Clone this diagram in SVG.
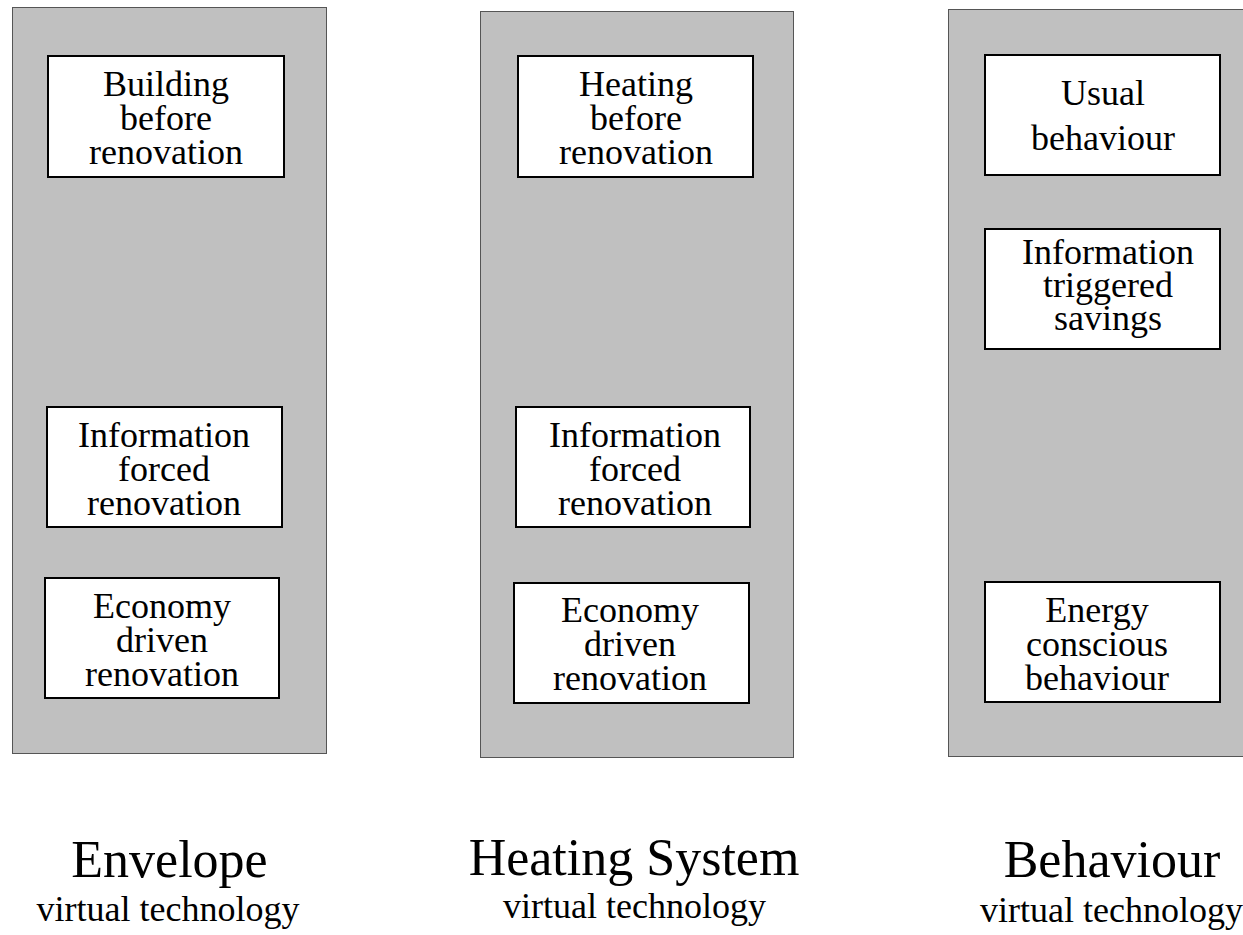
<svg xmlns="http://www.w3.org/2000/svg" width="1243" height="935" viewBox="0 0 1243 935">
  <style>
    .panel { fill: #c0c0c0; stroke: #555555; stroke-width: 1; }
    .box { fill: #ffffff; stroke: #000000; stroke-width: 2; }
    .lbl { font-family: "Liberation Serif", "Times New Roman", serif; font-size: 36px; fill: #000000; text-anchor: middle; }
    .title { font-family: "Liberation Serif", "Times New Roman", serif; font-size: 52px; fill: #000000; text-anchor: middle; }
  </style>
  <rect x="0" y="0" width="1243" height="935" fill="#ffffff"/>

  <!-- column panels -->
  <g id="panel-envelope"><rect class="panel" x="12.5" y="7.5" width="314" height="746"/></g>
  <g id="panel-heating"><rect class="panel" x="480.5" y="11.5" width="313" height="746"/></g>
  <g id="panel-behaviour"><rect class="panel" x="948.5" y="9.5" width="320" height="747"/></g>

  <!-- Envelope column -->
  <g id="env-before">
    <rect class="box" x="48" y="56" width="236" height="121"/>
    <text class="lbl" x="166" y="96">Building</text>
    <text class="lbl" x="166" y="130">before</text>
    <text class="lbl" x="166" y="164">renovation</text>
  </g>
  <g id="env-forced">
    <rect class="box" x="47" y="407" width="235" height="120"/>
    <text class="lbl" x="164" y="447">Information</text>
    <text class="lbl" x="164" y="481">forced</text>
    <text class="lbl" x="164" y="515">renovation</text>
  </g>
  <g id="env-economy">
    <rect class="box" x="45" y="578" width="234" height="120"/>
    <text class="lbl" x="162" y="618">Economy</text>
    <text class="lbl" x="162" y="652">driven</text>
    <text class="lbl" x="162" y="686">renovation</text>
  </g>

  <!-- Heating System column -->
  <g id="heat-before">
    <rect class="box" x="518" y="56" width="235" height="121"/>
    <text class="lbl" x="636" y="96">Heating</text>
    <text class="lbl" x="636" y="130">before</text>
    <text class="lbl" x="636" y="164">renovation</text>
  </g>
  <g id="heat-forced">
    <rect class="box" x="516" y="407" width="234" height="120"/>
    <text class="lbl" x="635" y="447">Information</text>
    <text class="lbl" x="635" y="481">forced</text>
    <text class="lbl" x="635" y="515">renovation</text>
  </g>
  <g id="heat-economy">
    <rect class="box" x="514" y="583" width="235" height="120"/>
    <text class="lbl" x="630" y="622">Economy</text>
    <text class="lbl" x="630" y="656">driven</text>
    <text class="lbl" x="630" y="690">renovation</text>
  </g>

  <!-- Behaviour column -->
  <g id="beh-usual">
    <rect class="box" x="985" y="55" width="235" height="120"/>
    <text class="lbl" x="1103" y="105">Usual</text>
    <text class="lbl" x="1103" y="150">behaviour</text>
  </g>
  <g id="beh-triggered">
    <rect class="box" x="985" y="229" width="235" height="120"/>
    <text class="lbl" x="1108" y="264">Information</text>
    <text class="lbl" x="1108" y="297">triggered</text>
    <text class="lbl" x="1108" y="330">savings</text>
  </g>
  <g id="beh-conscious">
    <rect class="box" x="985" y="582" width="235" height="120"/>
    <text class="lbl" x="1097" y="622">Energy</text>
    <text class="lbl" x="1097" y="656">conscious</text>
    <text class="lbl" x="1097" y="690">behaviour</text>
  </g>

  <!-- no links between the boxes -->
  <g id="connectors"></g>

  <!-- column captions -->
  <g id="caption-envelope">
    <text class="title" x="169.5" y="877">Envelope</text>
    <text class="lbl" x="168" y="921">virtual technology</text>
  </g>
  <g id="caption-heating">
    <text class="title" x="634" y="875">Heating System</text>
    <text class="lbl" x="634.5" y="918">virtual technology</text>
  </g>
  <g id="caption-behaviour">
    <text class="title" x="1112" y="877">Behaviour</text>
    <text class="lbl" x="1111.5" y="922">virtual technology</text>
  </g>
</svg>
